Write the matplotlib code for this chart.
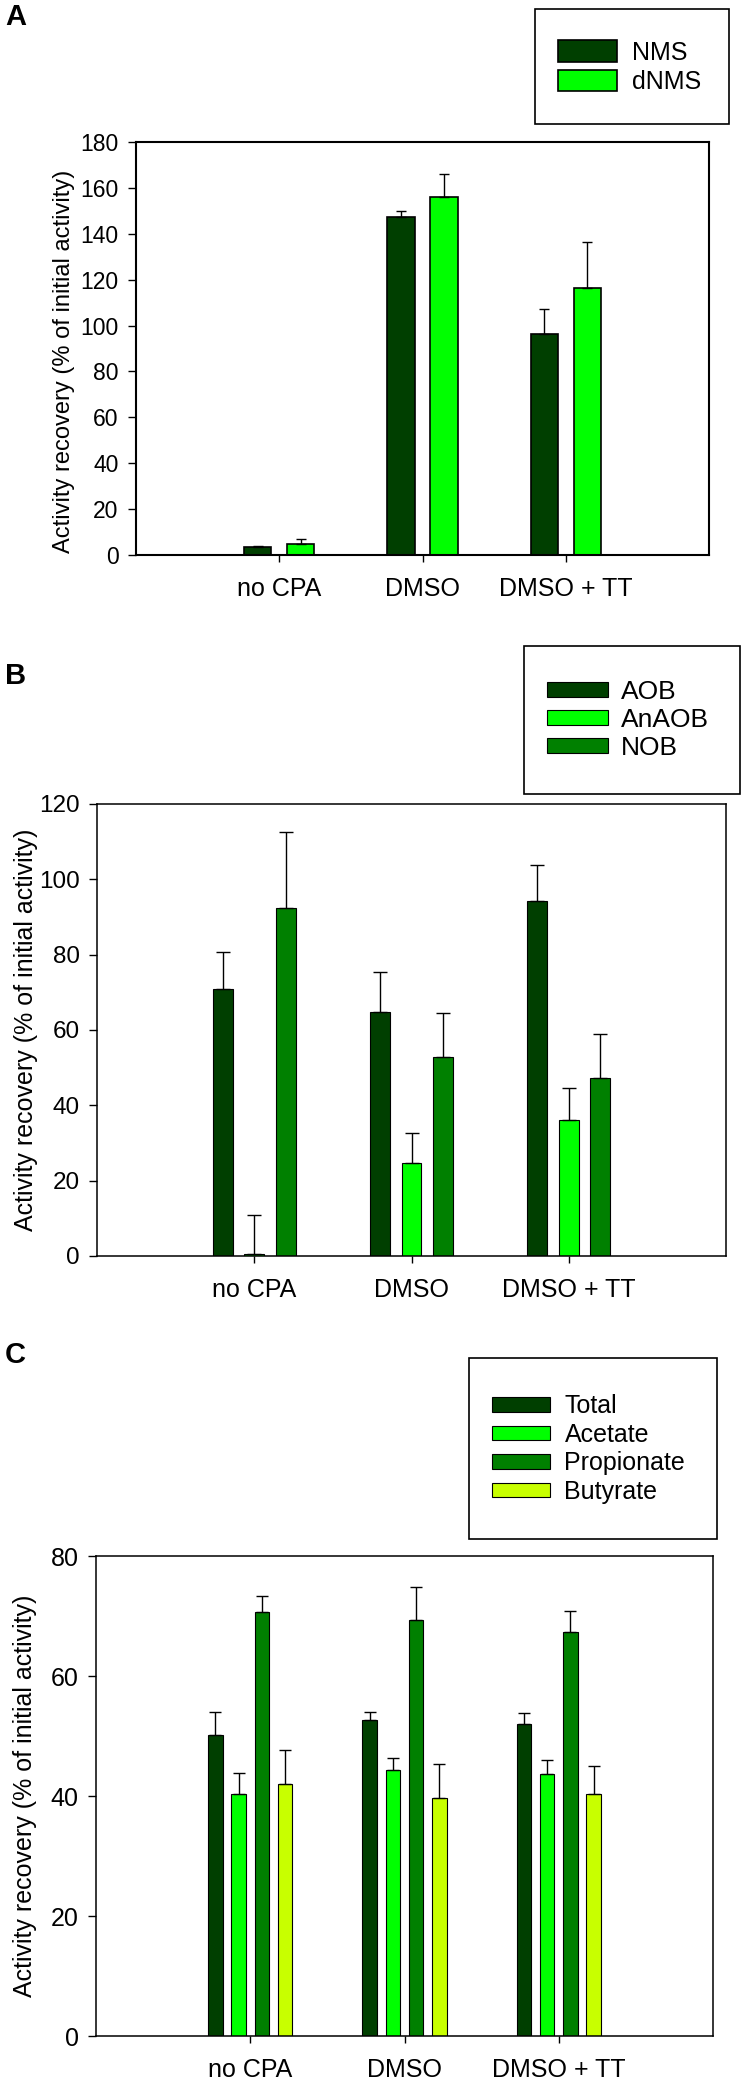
import numpy as np
import matplotlib
matplotlib.use("Agg")
import matplotlib.pyplot as plt
from matplotlib.patches import Rectangle

plt.rcParams['font.family'] = ['Liberation Sans', 'DejaVu Sans']

# data
groups = ['no CPA', 'DMSO', 'DMSO + TT']

a_names = ['NMS', 'dNMS']
a_vals = [[3.4, 147.1, 96.4], [4.8, 156.1, 116.5]]
a_errs = [[0.5, 2.7, 10.6], [2.0, 10.0, 20.0]]

b_names = ['AOB', 'AnAOB', 'NOB']
b_vals = [[70.9, 64.9, 94.2], [0.5, 24.8, 36.1], [92.3, 52.9, 47.2]]
b_errs = [[9.8, 10.5, 9.6], [10.4, 7.8, 8.4], [20.3, 11.7, 11.8]]

c_names = ['Total', 'Acetate', 'Propionate', 'Butyrate']
c_vals = [[50.2, 52.6, 52.0], [40.3, 44.4, 43.7], [70.6, 69.3, 67.4], [42.0, 39.6, 40.3]]
c_errs = [[3.8, 1.4, 1.8], [3.6, 2.0, 2.3], [2.8, 5.6, 3.5], [5.6, 5.8, 4.7]]

colors = ['#003f00', '#00ff00', '#008000', '#c8ff00']

W, H = 744, 2083
fig = plt.figure(figsize=(W / 100, H / 100), dpi=100)


def px_axes(l, t, r, b):
    return fig.add_axes([l / W, 1 - b / H, (r - l) / W, (b - t) / H])


def panel(ax, names, vals, errs, width, step, ymax, tick_fs, lab_fs, lw, capsize, labx, laby=0.5):
    x = np.arange(1, len(groups) + 1)
    n = len(names)
    bars = []
    for i in range(n):
        off = (i - (n - 1) / 2) * step
        b = ax.bar(x + off, vals[i], width, color=colors[i], edgecolor='black',
                   linewidth=lw, zorder=2, label=names[i])
        ax.errorbar(x + off, vals[i], yerr=[np.zeros(len(x)), errs[i]], fmt='none',
                    ecolor='black', elinewidth=1, capsize=capsize, capthick=1, zorder=3)
        bars.append(b)
    ax.set_xlim(0, 4)
    ax.set_ylim(0, ymax)
    ax.set_yticks(np.arange(0, ymax + 1, 20))
    ax.set_xticks(x)
    ax.set_xticklabels(groups)
    ax.tick_params(axis='x', length=5, width=1, labelsize=18, pad=11)
    ax.tick_params(axis='y', length=5.5, width=1, labelsize=tick_fs, pad=7)
    for s in ax.spines.values():
        s.set_linewidth(lw + 0.3)
    ax.set_ylabel('Activity recovery (% of initial activity)', fontsize=lab_fs)
    ax.yaxis.set_label_coords(labx, laby)
    return bars


def legend_box(bars, names, l, t, r, b, hx, cy, fs, hl, hh, tp, sp):
    fig.add_artist(Rectangle((l / W, 1 - b / H), (r - l) / W, (b - t) / H,
                             transform=fig.transFigure, fill=False,
                             edgecolor='black', linewidth=1.2))
    fig.legend(bars, names, loc='center left', bbox_to_anchor=(hx / W, 1 - cy / H),
               frameon=False, fontsize=fs, handlelength=hl, handleheight=hh,
               handletextpad=tp, labelspacing=sp, borderpad=0, borderaxespad=0)


# A
axA = px_axes(136, 142, 709, 555)
bA = panel(axA, a_names, a_vals, a_errs, 0.19, 0.30, 180, 16.5, 17, 1.2, 3.3, -0.106, 0.47)
legend_box(bA, a_names, 535, 9, 729, 124, 558, 67, 18, 2.36, 0.96, 0.6, 0.2)
fig.text(5 / W, 1 - 3 / H, 'A', fontsize=21, fontweight='bold', va='top', ha='left')

# B
axB = px_axes(97, 804, 726, 1256)
bB = panel(axB, b_names, b_vals, b_errs, 0.127, 0.20, 120, 17.5, 18, 0.8, 5, -0.094)
legend_box(bB, b_names, 524, 646, 740, 794, 547, 720, 19, 2.3, 0.5, 0.5, 0.15)
fig.text(5 / W, 1 - 662 / H, 'B', fontsize=21, fontweight='bold', va='top', ha='left')

# C
axC = px_axes(96, 1556, 713, 2036)
bC = panel(axC, c_names, c_vals, c_errs, 0.094, 0.151, 80, 18, 18, 0.8, 4, -0.0956)
legend_box(bC, c_names, 469, 1358, 717, 1539, 492, 1449, 18, 2.3, 0.5, 0.6, 0.18)
fig.text(5 / W, 1 - 1341 / H, 'C', fontsize=21, fontweight='bold', va='top', ha='left')

fig.savefig('out.png', dpi=100)
